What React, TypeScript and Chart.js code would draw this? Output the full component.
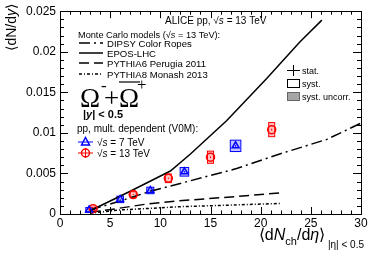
import React, { useEffect, useRef } from "react";
import { Chart, registerables } from "chart.js";

Chart.register(...registerables);

// ---------------- data ----------------
const xTickValues = [0, 5, 10, 15, 20, 25, 30];
const yTickLabels = ["0", "0.005", "0.01", "0.015", "0.02", "0.025"];

// pp 7 TeV, multiplicity dependent
const mult7 = [2.9, 6.0, 9.0, 12.4, 17.5];
const yield7 = [0.0005, 0.0018, 0.0029, 0.0052, 0.0084];
const stat7 = [0.00004, 0.00006, 0.00008, 0.0001, 0.00012];
const syst7 = [0.0003, 0.0004, 0.0004, 0.00053, 0.0007];
const boxW7 = [0.65, 0.65, 0.7, 0.85, 1.05];

// pp 13 TeV, multiplicity dependent
const mult13 = [3.3, 7.3, 10.8, 15.0, 21.1];
const yield13 = [0.00065, 0.0024, 0.0044, 0.007, 0.0104];
const stat13 = [0.00004, 0.00006, 0.00008, 0.0001, 0.00012];
const syst13 = [0.0002, 0.00035, 0.00053, 0.00075, 0.00087];
const boxW13 = [0.6, 0.6, 0.6, 0.6, 0.6];

// Monte Carlo models
const dipsyX = [3, 6, 9, 13, 17.6, 21.9, 26.6, 30];
const dipsyY = [0.0005, 0.0016, 0.0028, 0.0041, 0.0056, 0.0074, 0.0092, 0.0112];
const eposX = [3, 7, 11, 13, 16.6, 20.6, 23.9, 26.1];
const eposY = [0.0004, 0.0028, 0.0053, 0.0074, 0.0115, 0.0167, 0.0212, 0.0239];
const perugiaX = [3, 5.3, 8.5, 11.6, 16, 22];
const perugiaY = [0.0002, 0.0006, 0.0012, 0.0016, 0.002, 0.0026];
const monashX = [3, 6, 12, 17, 22];
const monashY = [0.0001, 0.0005, 0.0009, 0.0011, 0.0013];

const modelNames = ["DIPSY Color Ropes", "EPOS-LHC", "PYTHIA6 Perugia 2011", "PYTHIA8 Monash 2013"];

// ---------------- styles ----------------
const SANS = '"Liberation Sans", Arial, Helvetica, sans-serif';
const SERIF = '"Liberation Serif", "Times New Roman", serif';
const BLUE = "#0000ff";
const RED = "#ff0000";
const dashDIPSY = [11, 4, 2, 4];
const dashEPOS: number[] = [];
const dashPerugia = [10, 5];
const dashMonash = [3, 2, 1, 2];
const modelDashes = [dashDIPSY, dashEPOS, dashPerugia, dashMonash];

type Seg = { t: string; f: string; dy?: number };

function segWidth(ctx: CanvasRenderingContext2D, segs: Seg[]) {
  let w = 0;
  for (const s of segs) {
    ctx.font = s.f;
    w += ctx.measureText(s.t).width;
  }
  return w;
}
function drawSegs(ctx: CanvasRenderingContext2D, segs: Seg[], x: number, y: number) {
  let cx = x;
  for (const s of segs) {
    ctx.font = s.f;
    ctx.fillText(s.t, cx, y + (s.dy || 0));
    cx += ctx.measureText(s.t).width;
  }
  return cx;
}

const toPts = (xs: number[], ys: number[]) => xs.map((v, i) => ({ x: v, y: ys[i] }));

const decorPlugin = {
  id: "decor",
  beforeDatasetsDraw(chart: any) {
    const { ctx, scales } = chart;
    const x = scales.x, y = scales.y;
    ctx.save();
    const boxes = (xs: number[], ys: number[], es: number[], ws: number[], stroke: string, fill: string) => {
      for (let i = 0; i < xs.length; i++) {
        const l = x.getPixelForValue(xs[i] - ws[i] / 2);
        const r = x.getPixelForValue(xs[i] + ws[i] / 2);
        const t = y.getPixelForValue(ys[i] + es[i]);
        const b = y.getPixelForValue(ys[i] - es[i]);
        ctx.fillStyle = fill;
        ctx.fillRect(l, t, r - l, b - t);
        ctx.strokeStyle = stroke;
        ctx.lineWidth = 1;
        ctx.strokeRect(l, t, r - l, b - t);
      }
    };
    boxes(mult7, yield7, syst7, boxW7, BLUE, "rgba(120,120,255,0.45)");
    boxes(mult13, yield13, syst13, boxW13, RED, "rgba(255,120,120,0.45)");
    const stats = (xs: number[], ys: number[], es: number[], col: string) => {
      ctx.strokeStyle = col;
      ctx.lineWidth = 1;
      for (let i = 0; i < xs.length; i++) {
        const px = x.getPixelForValue(xs[i]);
        ctx.beginPath();
        ctx.moveTo(px, y.getPixelForValue(ys[i] - es[i]));
        ctx.lineTo(px, y.getPixelForValue(ys[i] + es[i]));
        ctx.stroke();
      }
    };
    stats(mult7, yield7, stat7, BLUE);
    stats(mult13, yield13, stat13, RED);
    ctx.restore();
  },
  afterDraw(chart: any) {
    const { ctx, scales, chartArea } = chart;
    const x = scales.x, y = scales.y;
    const { left, right, top, bottom } = chartArea;
    ctx.save();
    ctx.strokeStyle = "#000";
    ctx.lineWidth = 1;
    ctx.setLineDash([]);
    // frame
    ctx.strokeRect(Math.round(left) + 0.5, Math.round(top) + 0.5, Math.round(right - left), Math.round(bottom - top));
    // ticks
    ctx.beginPath();
    for (let v = 0; v <= 30 + 1e-9; v += 1) {
      const px = Math.round(x.getPixelForValue(v)) + 0.5;
      const len = Math.abs(v % 5) < 1e-9 ? 7 : 3.5;
      ctx.moveTo(px, bottom);
      ctx.lineTo(px, bottom - len);
      ctx.moveTo(px, top);
      ctx.lineTo(px, top + len);
    }
    for (let k = 0; k <= 25; k++) {
      const v = k * 0.001;
      const py = Math.round(y.getPixelForValue(v)) + 0.5;
      const len = k % 5 === 0 ? 8 : 4;
      ctx.moveTo(left, py);
      ctx.lineTo(left + len, py);
      ctx.moveTo(right, py);
      ctx.lineTo(right - len, py);
    }
    ctx.stroke();

    ctx.fillStyle = "#000";
    ctx.textBaseline = "alphabetic";
    ctx.textAlign = "left";
    const f10 = `10px ${SANS}`;
    const f10i = `italic 10px ${SANS}`;
    const f9 = `9.2px ${SANS}`;
    const f9i = `italic 9.2px ${SANS}`;
    const fm = `9.6px ${SANS}`;

    // header
    drawSegs(ctx, [{ t: "ALICE pp, √", f: f10 }, { t: "s", f: f10i }, { t: " = 13 TeV", f: f10 }], 165, 24);
    drawSegs(ctx, [{ t: "Monte Carlo models (√", f: f9 }, { t: "s", f: f9i }, { t: " = 13 TeV):", f: f9 }], 78, 38);

    // model legend
    const ly = [43, 53, 63, 74];
    for (let i = 0; i < 4; i++) {
      ctx.beginPath();
      ctx.setLineDash(modelDashes[i]);
      ctx.lineWidth = 1.5;
      ctx.moveTo(79, ly[i]);
      ctx.lineTo(103, ly[i]);
      ctx.stroke();
      ctx.setLineDash([]);
      ctx.font = fm;
      ctx.fillText(modelNames[i], 107, ly[i] + 4);
    }

    // Omega label
    ctx.font = `27px ${SERIF}`;
    ctx.fillText("Ω", 80, 107);
    ctx.font = `17px ${SERIF}`;
    ctx.fillText("-", 101, 91);
    ctx.font = `27px ${SERIF}`;
    ctx.fillText("+", 104, 107);
    ctx.fillText("Ω", 119, 107);
    ctx.lineWidth = 1.2;
    ctx.beginPath();
    ctx.moveTo(119, 82);
    ctx.lineTo(140, 82);
    ctx.stroke();
    ctx.font = `17px ${SERIF}`;
    ctx.fillText("+", 137, 90);

    const fb = `bold 11px ${SANS}`;
    const fbi = `bold italic 11px ${SANS}`;
    drawSegs(ctx, [{ t: "|", f: fb }, { t: "y", f: fbi }, { t: "| < 0.5", f: fb }], 83, 118);

    // data legend
    ctx.font = f10;
    ctx.fillText("pp, mult. dependent (V0M):", 77, 132);
    // blue entry
    ctx.strokeStyle = BLUE;
    ctx.lineWidth = 1;
    ctx.beginPath();
    ctx.moveTo(78, 142);
    ctx.lineTo(93, 142);
    ctx.stroke();
    ctx.lineWidth = 1.5;
    ctx.beginPath();
    ctx.moveTo(85.5, 137.5);
    ctx.lineTo(89.5, 145);
    ctx.lineTo(81.5, 145);
    ctx.closePath();
    ctx.stroke();
    ctx.fillStyle = "#000";
    drawSegs(ctx, [{ t: "√", f: f10 }, { t: "s", f: f10i }, { t: " = 7 TeV", f: f10 }], 97, 146);
    // red entry
    ctx.strokeStyle = RED;
    ctx.lineWidth = 1;
    ctx.beginPath();
    ctx.moveTo(78, 153);
    ctx.lineTo(93, 153);
    ctx.moveTo(85.5, 148);
    ctx.lineTo(85.5, 158);
    ctx.stroke();
    ctx.lineWidth = 1.5;
    ctx.beginPath();
    ctx.arc(85.5, 153, 4, 0, Math.PI * 2);
    ctx.stroke();
    drawSegs(ctx, [{ t: "√", f: f10 }, { t: "s", f: f10i }, { t: " = 13 TeV", f: f10 }], 97, 157);

    // right legend
    const fr = `9px ${SANS}`;
    ctx.strokeStyle = "#000";
    ctx.lineWidth = 1;
    ctx.beginPath();
    ctx.moveTo(287, 70.5);
    ctx.lineTo(300, 70.5);
    ctx.moveTo(293.5, 65);
    ctx.lineTo(293.5, 76);
    ctx.stroke();
    ctx.font = fr;
    ctx.fillText("stat.", 302, 74);
    ctx.strokeRect(287.5, 79.5, 12, 8);
    ctx.fillText("syst.", 302, 87);
    ctx.fillStyle = "#a6a6a6";
    ctx.fillRect(287.5, 92.5, 12, 8);
    ctx.strokeStyle = "#666";
    ctx.strokeRect(287.5, 92.5, 12, 8);
    ctx.fillStyle = "#000";
    ctx.fillText("syst. uncorr.", 302, 100);

    // y title (rotated)
    const fy = `14px ${SANS}`;
    const fyi = `italic 14px ${SANS}`;
    const ySegs: Seg[] = [
      { t: "⟨d", f: fy },
      { t: "N", f: fy },
      { t: "/d", f: fy },
      { t: "y", f: fyi },
      { t: "⟩", f: fy },
    ];
    const yw = segWidth(ctx, ySegs);
    ctx.save();
    ctx.translate(16, 4);
    ctx.rotate(-Math.PI / 2);
    drawSegs(ctx, ySegs, -yw, 0);
    ctx.restore();

    // x title
    const fx = `16px ${SANS}`;
    const fxi = `italic 16px ${SANS}`;
    const fs = `11px ${SANS}`;
    const fs2 = `10px ${SANS}`;
    const xSegs: Seg[] = [
      { t: "⟨d", f: fx },
      { t: "N", f: fxi },
      { t: "ch", f: fs, dy: 5 },
      { t: "/d", f: fx },
      { t: "η", f: fxi },
      { t: "⟩", f: fx },
      { t: " |η| < 0.5", f: fs2, dy: 8 },
    ];
    const xw = segWidth(ctx, xSegs);
    drawSegs(ctx, xSegs, 364 - xw, 240);

    ctx.restore();
  },
};

export default function App() {
  const ref = useRef<HTMLCanvasElement>(null);
  useEffect(() => {
    const canvas = ref.current;
    if (!canvas) return;
    const lineDs = (label: string, xs: number[], ys: number[], dash: number[]) => ({
      label,
      data: toPts(xs, ys),
      showLine: true,
      borderColor: "#000",
      borderWidth: 1.5,
      borderDash: dash,
      pointRadius: 0,
      fill: false,
      tension: 0,
      order: 5,
    });
    const chart = new Chart(canvas, {
      type: "scatter",
      data: {
        datasets: [
          {
            label: "√s = 7 TeV",
            data: toPts(mult7, yield7),
            pointStyle: "triangle",
            pointRadius: 4,
            borderColor: BLUE,
            backgroundColor: "rgba(0,0,0,0)",
            pointBorderWidth: 1.5,
            order: 1,
          },
          {
            label: "√s = 13 TeV",
            data: toPts(mult13, yield13),
            pointStyle: "circle",
            pointRadius: 4,
            borderColor: RED,
            backgroundColor: "rgba(0,0,0,0)",
            pointBorderWidth: 1.5,
            order: 1,
          },
          lineDs(modelNames[0], dipsyX, dipsyY, dashDIPSY),
          lineDs(modelNames[1], eposX, eposY, dashEPOS),
          lineDs(modelNames[2], perugiaX, perugiaY, dashPerugia),
          lineDs(modelNames[3], monashX, monashY, dashMonash),
        ] as any,
      },
      options: {
        responsive: false,
        animation: false,
        devicePixelRatio: 1,
        layout: { padding: { top: 9, right: 13, left: 0, bottom: 0 } },
        plugins: { legend: { display: false }, tooltip: { enabled: false }, title: { display: false } },
        scales: {
          x: {
            type: "linear",
            min: 0,
            max: 30,
            border: { display: false },
            grid: { display: false, drawTicks: false },
            afterBuildTicks: (s: any) => {
              s.ticks = xTickValues.map((v) => ({ value: v }));
            },
            ticks: {
              autoSkip: false,
              maxRotation: 0,
              padding: 2,
              color: "#000",
              font: { family: SANS, size: 12 },
              callback: (v: any) => String(v),
            },
            afterFit: (s: any) => {
              s.height = 41;
            },
          },
          y: {
            type: "linear",
            min: 0,
            max: 0.025,
            border: { display: false },
            grid: { display: false, drawTicks: false },
            afterBuildTicks: (s: any) => {
              s.ticks = yTickLabels.map((t) => ({ value: parseFloat(t) }));
            },
            ticks: {
              autoSkip: false,
              padding: 4,
              color: "#000",
              font: { family: SANS, size: 12 },
              callback: (v: any, i: number) => yTickLabels[i],
            },
            afterFit: (s: any) => {
              s.width = 60;
            },
          },
        },
      },
      plugins: [decorPlugin as any],
    });
    return () => chart.destroy();
  }, []);
  return (
    <div style={{ position: "fixed", left: 0, top: 0, width: 374, height: 255, background: "#fff" }}>
      <canvas ref={ref} width={374} height={255} style={{ width: 374, height: 255, display: "block" }} />
    </div>
  );
}
